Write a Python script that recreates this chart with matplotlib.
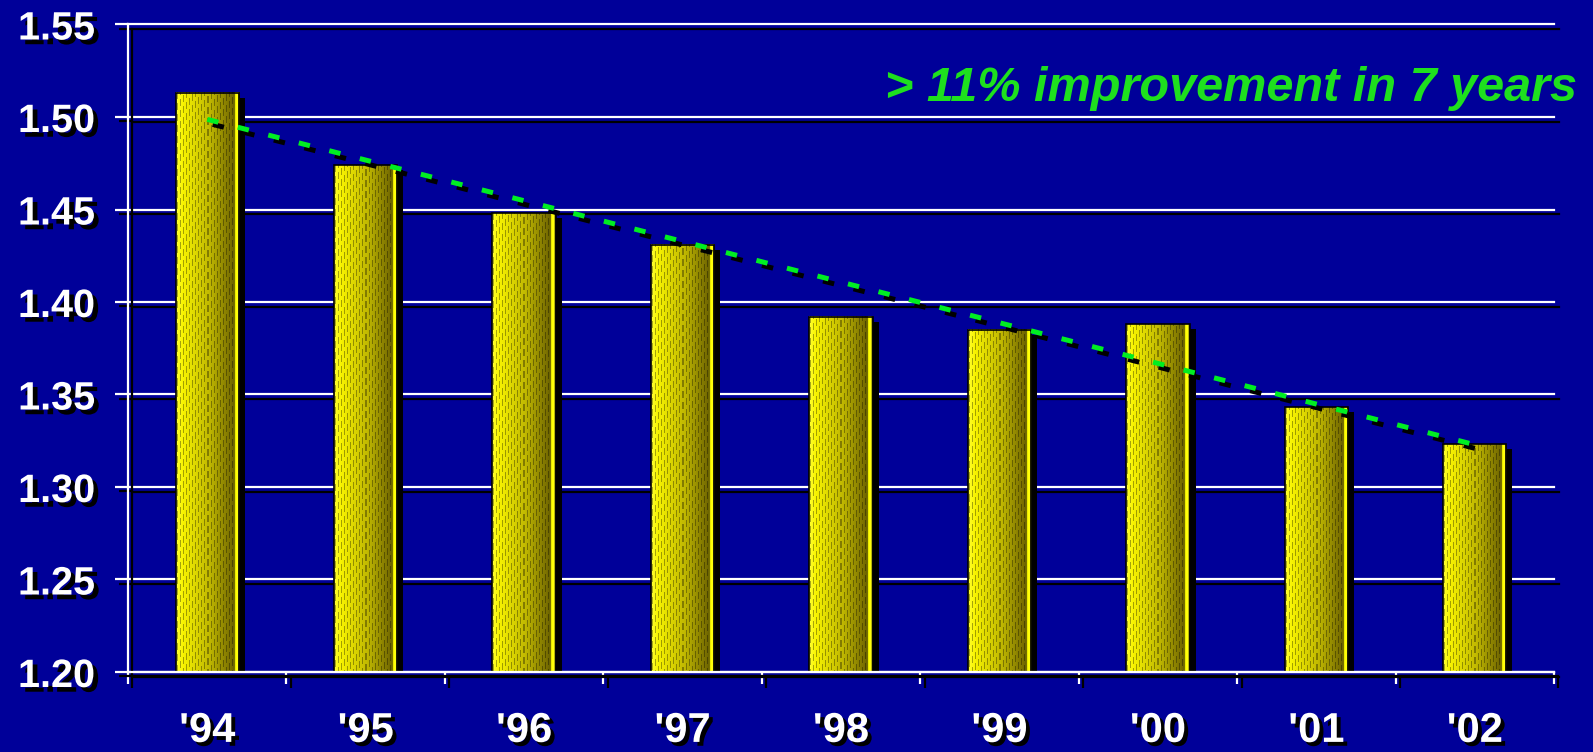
import numpy as np
import matplotlib
matplotlib.use('Agg')
import matplotlib.pyplot as plt
import matplotlib.patheffects as pe
from matplotlib.colors import LinearSegmentedColormap
from matplotlib.patches import Rectangle

# ---------------- data ----------------
years = ["'94", "'95", "'96", "'97", "'98", "'99", "'00", "'01", "'02"]
values = [1.513, 1.474, 1.448, 1.431, 1.392, 1.385, 1.388, 1.343, 1.323]
yticks = [1.20, 1.25, 1.30, 1.35, 1.40, 1.45, 1.50, 1.55]
ytick_labels = ["1.20", "1.25", "1.30", "1.35", "1.40", "1.45", "1.50", "1.55"]
annotation = "> 11% improvement in 7 years"

# ---------------- style ----------------
BG = '#000099'
FONT = 'Liberation Sans'
plt.rcParams['font.family'] = [FONT, 'DejaVu Sans']


def line_shadow(dx=3.0, dy=-3.0):
    return [pe.SimpleLineShadow(offset=(dx, dy), shadow_color='black', alpha=1.0), pe.Normal()]


def patch_shadow(dx=3.0, dy=-3.0):
    return [pe.SimplePatchShadow(offset=(dx, dy), shadow_rgbFace='black', alpha=1.0), pe.Normal()]


W, H = 1593, 752
fig = plt.figure(figsize=(W / 100, H / 100), dpi=100, facecolor=BG)
ax = fig.add_axes([128 / W, 80 / H, (1554 - 128) / W, (672 - 24.5) / H])
ax.set_facecolor(BG)

n = len(years)
x = np.arange(n)
ax.set_xlim(-0.5, n - 0.5)
ax.set_ylim(yticks[0], yticks[-1])

# spines
for s in ['top', 'right']:
    ax.spines[s].set_visible(False)
for s in ['left', 'bottom']:
    ax.spines[s].set_color('white')
    ax.spines[s].set_linewidth(1.6)
    ax.spines[s].set_path_effects(line_shadow(3.2, -3.2))
    ax.spines[s].set_zorder(4)

# y axis ticks, labels and grid
ax.set_yticks(yticks, labels=ytick_labels, fontsize=28.5, fontweight='bold', color='white')
ax.tick_params(axis='y', length=9.4, width=1.6, color='white', direction='out', pad=14)
ax.yaxis.grid(True, color='white', linewidth=1.6)
ax.set_axisbelow(True)
for gl in ax.get_ygridlines():
    gl.set_path_effects(line_shadow(3.4, -3.4))
    gl.set_clip_on(False)
for t in ax.yaxis.get_major_ticks():
    t.tick1line.set_path_effects(line_shadow(3.2, -3.2))
for lab in ax.get_yticklabels():
    lab.set_path_effects(patch_shadow(3.4, -3.4))

# x axis: boundary ticks (major) and centered labels (minor)
ax.set_xticks(np.arange(-0.5, n, 1.0), labels=[''] * (n + 1))
ax.tick_params(axis='x', which='major', length=8.6, width=1.6, color='white', direction='out')
for t in ax.xaxis.get_major_ticks():
    t.tick1line.set_path_effects(line_shadow(3.2, -3.2))
ax.set_xticks(x, labels=years, minor=True, fontsize=30, fontweight='bold', color='white')
ax.tick_params(axis='x', which='minor', length=0, pad=28)
for lab in ax.get_xticklabels(minor=True):
    lab.set_path_effects(patch_shadow(2.8, -2.8))

# bars
bars = ax.bar(x, values, width=0.40, color='#B8B000', edgecolor='none', zorder=2)
for b in bars:
    b.set_path_effects(patch_shadow(4.3, -3.6))

cmap = LinearSegmentedColormap.from_list('bar', [
    (0.00, '#FFFF30'), (0.10, '#F8F400'), (0.50, '#C4BC00'),
    (0.86, '#7A7000'), (0.92, '#6A6200'), (0.94, '#FFFF00'),
    (0.975, '#FFFF10'), (1.00, '#3A3600')])

ylo = ax.get_ylim()[0]
for b in bars:
    x0 = b.get_x()
    x1 = x0 + b.get_width()
    top = b.get_height()
    p0, p1 = ax.transData.transform([[x0, ylo], [x1, top]])
    wpx = max(int(round(p1[0] - p0[0])), 2)
    hpx = max(int(round(p1[1] - p0[1])), 2)
    cols = np.linspace(0, 1, wpx)
    rgb = cmap(cols)[:, :3]
    img = np.repeat(rgb[None, :, :], hpx, axis=0)
    c = np.arange(wpx)[None, :]
    r = np.arange(hpx)[:, None]
    mask = ((c % 3) == 1) & (((r + 4 * (c // 3)) % 11) < 7) & (c < wpx * 0.92)
    img = img * np.where(mask[:, :, None], 0.66, 1.0)
    ax.imshow(img, extent=[x0, x1, ylo, top], aspect='auto', origin='upper',
              interpolation='nearest', zorder=2.5)
    ax.add_patch(Rectangle((x0, ylo), x1 - x0, top - ylo, fill=False,
                           edgecolor='black', linewidth=1.2, zorder=3))

ax.set_xlim(-0.5, n - 0.5)
ax.set_ylim(yticks[0], yticks[-1])

# linear trend line
coef = np.polyfit(x, values, 1)
trend = np.polyval(coef, x)
ax.plot(x, trend, color='#00EE22', linewidth=3.6, dashes=(2.3, 4.0),
        dash_capstyle='butt', zorder=5, path_effects=line_shadow(4.0, -3.6))

fig.text(1577 / W, 1 - 101 / H, annotation, ha='right', va='baseline',
         fontsize=35, fontstyle='italic', fontweight='bold', color='#1EE01E')

fig.savefig('out.png', dpi=100, facecolor=BG)
